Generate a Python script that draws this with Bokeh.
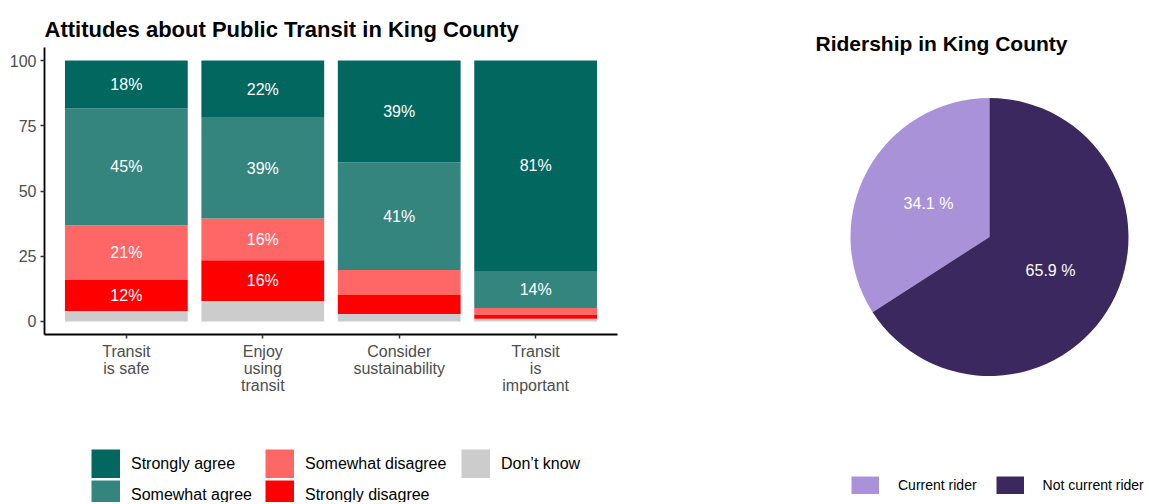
from bokeh.plotting import figure
from bokeh.layouts import row, column
from bokeh.models import (Range1d, FixedTicker, Legend, LegendItem, ColumnDataSource, Title)
from bokeh.core.properties import value
from bokeh.embed import file_html
from bokeh.resources import INLINE
import math

# ---------------- data ----------------
categories = ["Transit\nis safe", "Enjoy\nusing\ntransit", "Consider\nsustainability", "Transit\nis\nimportant"]
responses = ["Don\u2019t know", "Strongly disagree", "Somewhat disagree", "Somewhat agree", "Strongly agree"]
dont_know = [4.0, 7.8, 2.9, 1.0]
strongly_disagree = [11.9, 15.7, 7.2, 1.5]
somewhat_disagree = [21.0, 16.0, 9.6, 2.7]
somewhat_agree = [44.8, 38.6, 41.3, 14.1]
strongly_agree = [18.3, 21.9, 39.0, 80.7]
y_ticks = [0, 25, 50, 75, 100]

riders = ["Current rider", "Not current rider"]
rider_share = [34.1, 65.9]

FONT = "Liberation Sans"
colors = {
    "Strongly agree": "#02675F",
    "Somewhat agree": "#35857F",
    "Somewhat disagree": "#FF6666",
    "Strongly disagree": "#FF0000",
    "Don\u2019t know": "#CCCCCC",
}

# ---------------- bar chart ----------------
xs = list(range(1, len(categories) + 1))
series = [dont_know, strongly_disagree, somewhat_disagree, somewhat_agree, strongly_agree]
keys = ["dk", "sd", "swd", "swa", "sa"]
data = {"x": xs}
for k, s in zip(keys, series):
    data[k] = s
src = ColumnDataSource(data)

p1 = figure(width=720, height=430, output_backend="svg", toolbar_location=None,
            x_range=Range1d(0.4, 4.6), y_range=Range1d(-5, 105),
            min_border_left=44, min_border_right=103, min_border_top=47, min_border_bottom=96,
            frame_align=False)
p1.title = Title(text="Attitudes about Public Transit in King County", align="left",
                 text_font=FONT, text_font_size="22px", text_font_style="bold",
                 text_color="black", standoff=11)

renderers = p1.vbar_stack(keys, x="x", width=0.9, source=src,
                          color=[colors[r] for r in responses], line_color=None)

# segment labels
lx, ly, lt = [], [], []
for i, x in enumerate(xs):
    base = 0.0
    for s in series:
        v = s[i]
        if v >= 10:
            lx.append(x)
            ly.append(base + v / 2)
            lt.append(f"{round(v)}%")
        base += v
p1.text(x=lx, y=ly, text=lt, text_font=value(FONT), text_font_size="16px",
        text_color="white", text_align="center", text_baseline="middle")

p1.xgrid.visible = False
p1.ygrid.visible = False
p1.outline_line_color = None

p1.yaxis.ticker = FixedTicker(ticks=y_ticks)
p1.xaxis.ticker = FixedTicker(ticks=xs)
p1.xaxis.major_label_overrides = {x: c for x, c in zip(xs, categories)}
for ax in (p1.xaxis[0], p1.yaxis[0]):
    ax.major_label_text_font = FONT
    ax.major_label_text_font_size = "16px"
    ax.major_label_text_color = "#4D4D4D"
    ax.axis_line_color = "black"
    ax.axis_line_width = 1.8
    ax.major_tick_line_color = "#333333"
    ax.major_tick_line_width = 1.5
    ax.major_tick_in = 0
    ax.major_tick_out = 4
    ax.minor_tick_line_color = None
    ax.major_label_standoff = 4
p1.xaxis.major_label_text_line_height = 1.0

# ---------------- legend strip under the bar chart ----------------
pl = figure(width=720, height=72, output_backend="svg", toolbar_location=None,
            x_range=Range1d(0, 1), y_range=Range1d(0, 1),
            x_axis_type=None, y_axis_type=None,
            min_border_left=0, min_border_right=0, min_border_top=0, min_border_bottom=0,
            frame_align=False)
pl.xgrid.visible = False
pl.ygrid.visible = False
pl.outline_line_color = None
items = {}
for r in responses:
    # off-screen proxy renderer that only supplies the legend swatch (thick line = full square key)
    rr = pl.line(x=[-100, -99], y=[-100, -100], line_color=colors[r], line_width=29)
    items[r] = LegendItem(label=r, renderers=[rr])
legend_cols = [
    (["Strongly agree", "Somewhat agree"], (91, -7)),
    (["Somewhat disagree", "Strongly disagree"], (265, -7)),
    (["Don\u2019t know"], (461, 24)),
]
for names, loc in legend_cols:
    lg = Legend(items=[items[n] for n in names], location=loc, orientation="vertical",
                glyph_width=29, glyph_height=29, label_standoff=11, spacing=2,
                padding=0, margin=0, border_line_alpha=0, background_fill_alpha=0,
                label_text_font=FONT, label_text_font_size="16px", label_text_color="black",
                label_height=29)
    pl.add_layout(lg, "center")

# ---------------- pie chart ----------------
R = 139
# clockwise from 12 o'clock: Not current rider, then Current rider
order = [1, 0]
starts = [0.0] * len(riders)
ends = [0.0] * len(riders)
mids = [0.0] * len(riders)
cum = 0.0
for i in order:
    a0 = math.pi / 2 - cum / 100 * 2 * math.pi
    cum += rider_share[i]
    a1 = math.pi / 2 - cum / 100 * 2 * math.pi
    starts[i], ends[i] = a1, a0
    mids[i] = (a0 + a1) / 2
pie_colors = ["#AA92D8", "#3A285E"]
psrc = ColumnDataSource(dict(lx=[0.5 * R * math.cos(m) for m in mids],
                             ly=[0.5 * R * math.sin(m) for m in mids],
                             lab=[f"{v} %" for v in rider_share]))

p2 = figure(width=427, height=502, output_backend="svg", toolbar_location=None,
            x_range=Range1d(-269, 158), y_range=Range1d(-265.5, 172.5),
            x_axis_type=None, y_axis_type=None,
            min_border_left=0, min_border_right=0, min_border_top=64, min_border_bottom=0,
            frame_align=False)
p2.title = Title(text="Ridership in King County", align="left", offset=95,
                 text_font=FONT, text_font_size="21px", text_font_style="bold",
                 text_color="black", standoff=19)
p2.xgrid.visible = False
p2.ygrid.visible = False
p2.outline_line_color = None

for i in range(len(riders)):
    p2.wedge(x=0, y=0, radius=R, start_angle=starts[i], end_angle=ends[i],
             fill_color=pie_colors[i], line_color=None)
p2.text(x="lx", y="ly", text="lab", source=psrc, text_font=value(FONT), text_font_size="16px",
        text_color="white", text_align="center", text_baseline="middle")

pie_items = []
for n, c in zip(riders, pie_colors):
    rr = p2.line(x=[-1000, -999], y=[-1000, -1000], line_color=c, line_width=18)
    pie_items.append(LegendItem(label=n, renderers=[rr]))
lg2 = Legend(items=pie_items, location=(131, 8), orientation="horizontal",
             glyph_width=28, glyph_height=18, label_standoff=19, spacing=19,
             padding=0, margin=0, border_line_alpha=0, background_fill_alpha=0,
             label_text_font=FONT, label_text_font_size="14px", label_text_color="black",
             label_height=18)
p2.add_layout(lg2, "center")

layout = row(column(p1, pl, spacing=0), p2, spacing=0)
open("out.html", "w").write(file_html(layout, INLINE))
